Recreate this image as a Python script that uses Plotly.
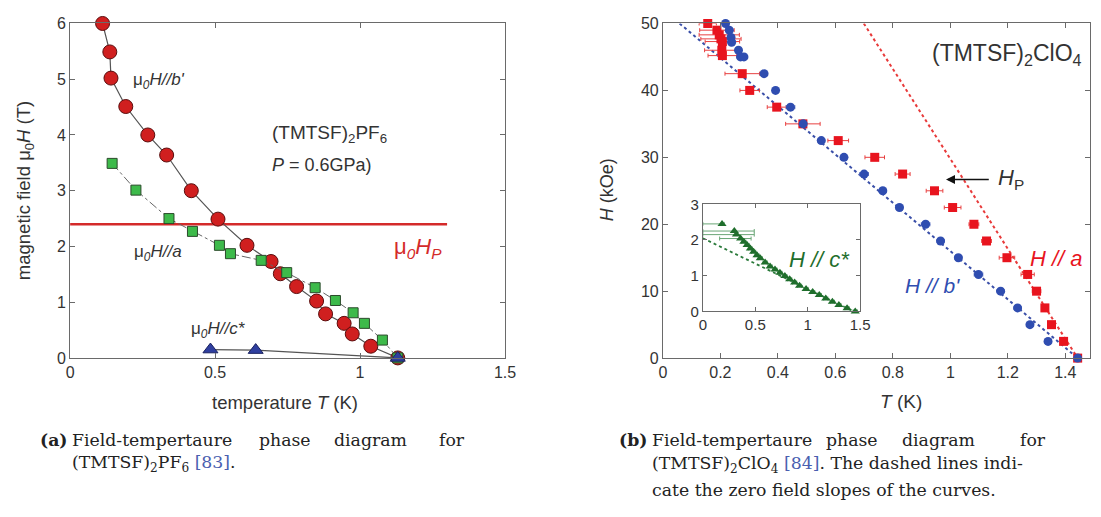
import plotly.graph_objects as go

W, H = 1101, 517

# ---------------- Left panel: (TMTSF)2PF6 ----------------
b_T = [0.112, 0.137, 0.141, 0.192, 0.268, 0.333, 0.418, 0.51, 0.61, 0.693, 0.725, 0.781, 0.85, 0.881, 0.945, 0.973, 1.037, 1.13]
b_H = [6.0, 5.49, 5.02, 4.51, 4.0, 3.64, 3.0, 2.49, 2.02, 1.73, 1.51, 1.28, 1.02, 0.79, 0.62, 0.43, 0.21, 0.0]

a_T = [0.145, 0.227, 0.341, 0.422, 0.515, 0.553, 0.659, 0.747, 0.845, 0.915, 0.976, 1.015, 1.077, 1.13]
a_H = [3.49, 3.01, 2.5, 2.27, 2.02, 1.87, 1.75, 1.53, 1.26, 1.03, 0.81, 0.62, 0.32, 0.0]

c_T = [0.484, 0.64, 1.13]
c_H = [0.15, 0.14, 0.0]

HP_T = [0.0, 1.3]
HP_H = [2.4, 2.4]

# ---------------- Right panel: (TMTSF)2ClO4 ----------------
ra_T = [0.156, 0.188, 0.196, 0.202, 0.207, 0.205, 0.207, 0.276, 0.302, 0.396, 0.487, 0.61, 0.737, 0.834,
        0.945, 1.008, 1.082, 1.126, 1.197, 1.269, 1.30, 1.329, 1.352, 1.394, 1.443]
ra_H = [50.0, 49.0, 48.3, 47.7, 47.3, 46.0, 45.2, 42.5, 40.0, 37.5, 35.0, 32.5, 30.0, 27.5,
        25.0, 22.5, 20.0, 17.5, 15.0, 12.5, 10.0, 7.5, 5.0, 2.5, 0.0]
ra_err = [0.03, 0.06, 0.07, 0.07, 0.06, 0.06, 0.05, 0.06, 0.034, 0.033, 0.06, 0.036, 0.034, 0.026,
          0.029, 0.029, 0.017, 0.017, 0.027, 0.023, 0.015, 0.012, 0.01, 0.01, 0.0]

bb_T = [0.218, 0.231, 0.237, 0.239, 0.263, 0.27, 0.282, 0.352, 0.392, 0.444, 0.488, 0.551, 0.63, 0.70,
        0.765, 0.823, 0.914, 0.966, 1.028, 1.098, 1.175, 1.234, 1.277, 1.34, 1.443]
bb_H = [50.0, 49.0, 47.9, 47.2, 46.0, 45.0, 45.0, 42.5, 40.0, 37.5, 35.0, 32.5, 30.0, 27.5,
        25.0, 22.5, 20.0, 17.5, 15.0, 12.5, 10.0, 7.5, 5.0, 2.5, 0.0]
bb_err = [0.01, 0.012, 0.012, 0.012, 0.01, 0.01, 0.01, 0.012, 0.01, 0.015, 0.012, 0.012, 0.01, 0.015,
          0.012, 0.012, 0.015, 0.012, 0.012, 0.015, 0.012, 0.012, 0.012, 0.012, 0.0]

slope_b_T = [0.058, 1.443]
slope_b_H = [50.0, 0.0]
slope_a_T = [0.699, 1.443]
slope_a_H = [50.0, 0.0]

# inset: H // c*
cs_T = [0.183, 0.30, 0.32, 0.36, 0.391, 0.422, 0.453, 0.484, 0.516, 0.547, 0.594, 0.641, 0.688, 0.735,
        0.782, 0.828, 0.875, 0.922, 0.984, 1.047, 1.11, 1.172, 1.235, 1.297, 1.375, 1.453]
cs_H = [2.45, 2.25, 2.15, 2.04, 1.95, 1.86, 1.76, 1.67, 1.57, 1.49, 1.37, 1.26, 1.17, 1.08,
        0.99, 0.90, 0.81, 0.72, 0.63, 0.54, 0.46, 0.36, 0.27, 0.18, 0.09, 0.0]
cs_errp = [0.02, 0.19, 0.17, 0.1] + [0.02] * 22
cs_errm = [0.183, 0.30, 0.32, 0.2] + [0.02] * 22
slope_c_T = [0.0, 1.44]
slope_c_H = [2.05, 0.0]

FONT = "Liberation Sans"
SERIF = "DejaVu Serif"
TXT = "#333333"
AX = "#6a6a6a"


def px(x):
    return x / W


def py(y):
    return 1 - y / H


fig = go.Figure()

# left panel
fig.add_trace(go.Scatter(x=HP_T, y=HP_H, mode="lines", line=dict(color="#d42a2a", width=2.5),
                         xaxis="x", yaxis="y", showlegend=False))
fig.add_trace(go.Scatter(x=b_T, y=b_H, mode="lines+markers", line=dict(color="#555555", width=1.2),
                         marker=dict(symbol="circle", size=14, color="#d01f1f",
                                     line=dict(color="#5a0d0d", width=1)),
                         cliponaxis=False, xaxis="x", yaxis="y", showlegend=False))
fig.add_trace(go.Scatter(x=a_T, y=a_H, mode="lines+markers", line=dict(color="#666666", width=1, dash="dashdot"),
                         marker=dict(symbol="square", size=10, color="#3dba4a",
                                     line=dict(color="#2b4a2b", width=1)),
                         cliponaxis=False, xaxis="x", yaxis="y", showlegend=False))
fig.add_trace(go.Scatter(x=c_T, y=c_H, mode="lines+markers", line=dict(color="#555555", width=1.2),
                         marker=dict(symbol="triangle-up", size=13, color="#2f3f9f",
                                     line=dict(color="#1a2260", width=1)),
                         cliponaxis=False, xaxis="x", yaxis="y", showlegend=False))

# right panel
fig.add_trace(go.Scatter(x=slope_b_T, y=slope_b_H, mode="lines", line=dict(color="#3a4fa8", width=2, dash="dot"),
                         xaxis="x2", yaxis="y2", showlegend=False))
fig.add_trace(go.Scatter(x=slope_a_T, y=slope_a_H, mode="lines", line=dict(color="#e83a3a", width=2, dash="dot"),
                         xaxis="x2", yaxis="y2", showlegend=False))
fig.add_trace(go.Scatter(x=ra_T, y=ra_H, mode="markers",
                         marker=dict(symbol="square", size=9, color="#e8141e"),
                         error_x=dict(type="data", array=ra_err, color="#e84040", thickness=1, width=2),
                         cliponaxis=False, xaxis="x2", yaxis="y2", showlegend=False))
fig.add_trace(go.Scatter(x=bb_T, y=bb_H, mode="markers",
                         marker=dict(symbol="circle", size=9, color="#2f4db0"),
                         error_x=dict(type="data", array=bb_err, color="#5a70c0", thickness=1, width=2),
                         cliponaxis=False, xaxis="x2", yaxis="y2", showlegend=False))

# inset
fig.add_trace(go.Scatter(x=slope_c_T, y=slope_c_H, mode="lines", line=dict(color="#2a7a3a", width=1.8, dash="dot"),
                         xaxis="x3", yaxis="y3", showlegend=False))
fig.add_trace(go.Scatter(x=cs_T, y=cs_H, mode="markers",
                         marker=dict(symbol="triangle-up", size=8, color="#1f6e2c"),
                         error_x=dict(type="data", symmetric=False, array=cs_errp, arrayminus=cs_errm,
                                      color="#6aa676", thickness=1, width=2),
                         cliponaxis=False, xaxis="x3", yaxis="y3", showlegend=False))

axis_common = dict(showgrid=False, zeroline=False, showline=True, linecolor=AX, linewidth=1,
                   mirror="ticks", ticks="inside", ticklen=5, tickcolor=AX,
                   tickfont=dict(family=FONT, size=16, color=TXT))

fig.update_layout(
    width=W, height=H, margin=dict(l=0, r=0, t=0, b=0),
    paper_bgcolor="white", plot_bgcolor="white",
    xaxis=dict(domain=[px(67), px(508)], range=[0, 1.5], tickvals=[0, 0.5, 1, 1.5],
               ticktext=["0", "0.5", "1", "1.5"], anchor="y", **axis_common),
    yaxis=dict(domain=[py(361.5), py(15)], range=[0, 6], tickvals=[0, 1, 2, 3, 4, 5, 6], anchor="x", **axis_common),
    xaxis2=dict(domain=[px(668), 1.0], range=[0, (W - 668) / 291.4], tickvals=[0, 0.2, 0.4, 0.6, 0.8, 1, 1.2, 1.4],
                ticktext=["0", "0.2", "0.4", "0.6", "0.8", "1", "1.2", "1.4"], anchor="y2", **axis_common),
    yaxis2=dict(domain=[py(361.7), py(15)], range=[0, 50], tickvals=[0, 10, 20, 30, 40, 50], anchor="x2", **axis_common),
    xaxis3=dict(domain=[px(708.5), px(868)], range=[0, 1.5], tickvals=[0, 0.5, 1, 1.5],
                ticktext=["0", "0.5", "1", "1.5"], anchor="y3",
                **{**axis_common, "tickfont": dict(family=FONT, size=15, color=TXT), "ticklen": 4}),
    yaxis3=dict(domain=[py(313.3), py(202.3)], range=[0, 3], tickvals=[0, 1, 2, 3], anchor="x3",
                **{**axis_common, "tickfont": dict(family=FONT, size=15, color=TXT), "ticklen": 4}),
)

ann = []


def A(text, x, y, xref="paper", yref="paper", size=15, color=TXT, xanchor="left", yanchor="middle",
      family=FONT, angle=0):
    ann.append(dict(text=text, x=x, y=y, xref=xref, yref=yref, showarrow=False, xanchor=xanchor,
                    yanchor=yanchor, textangle=angle, font=dict(family=family, size=size, color=color)))


# left panel text
A("μ<sub><i>0</i></sub><i>H//b'</i>", 0.21, 4.96, "x", "y", size=17)
A("μ<sub><i>0</i></sub><i>H//a</i>", 0.215, 1.88, "x", "y", size=17)
A("μ<sub><i>0</i></sub><i>H//c*</i>", 0.41, 0.5, "x", "y", size=17)
A("μ<sub><i>0</i></sub><i>H</i><sub><i>P</i></sub>", 1.11, 1.98, "x", "y", size=22, color="#d42a2a")
A("(TMTSF)<sub>2</sub>PF<sub>6</sub>", 0.69, 4.01, "x", "y", size=19)
A("<i>P</i> = 0.6GPa)", 0.69, 3.46, "x", "y", size=18)
A("magnetic field μ<sub>0</sub><i>H</i> (T)", px(22), py(188), size=18.5, xanchor="center", angle=-90)
A("temperature <i>T</i> (K)", px(285), py(408), size=18.5, xanchor="center")

# right panel text
A("(TMTSF)<sub>2</sub>ClO<sub>4</sub>", 0.93, 45.4, "x2", "y2", size=23)
A("<i>H</i><sub>P</sub>", 1.16, 26.7, "x2", "y2", size=22)
A("<i>H // a</i>", 1.37, 14.9, "x2", "y2", size=22, color="#e8141e", xanchor="center")
A("<i>H // b'</i>", 0.937, 10.8, "x2", "y2", size=21, color="#2f4db0", xanchor="center")
A("<i>H // c*</i>", 1.115, 1.45, "x3", "y3", size=22, color="#1f6e2c", xanchor="center")
A("<i>H</i> (kOe)", px(612), py(187), size=18, xanchor="center", angle=-90)
A("<i>T</i> (K)", px(909), py(407), size=19, xanchor="center")

ann.append(dict(x=0.985, y=26.7, ax=1.139, ay=26.7, xref="x2", yref="y2", axref="x2", ayref="y2",
                text="", showarrow=True, arrowhead=2, arrowsize=1.2, arrowwidth=1.5, arrowcolor="#111111"))

# captions
CAP = "#222222"
LINK = "#4a5fb0"
CS = 17.3
A("<b>(a)</b>", px(34), py(447), size=CS, family=SERIF, color=CAP)
A("Field-tempertaure", px(67), py(447), size=CS, family=SERIF, color=CAP)
A("phase", px(256), py(447), size=CS, family=SERIF, color=CAP)
A("diagram", px(333), py(447), size=CS, family=SERIF, color=CAP)
A("for", px(469), py(447), size=CS, family=SERIF, color=CAP, xanchor="right")
A("(TMTSF)<sub>2</sub>PF<sub>6</sub> <span style='color:%s'>[83]</span>." % LINK, px(67), py(471),
  size=CS, family=SERIF, color=CAP)

A("<b>(b)</b>", px(621), py(447), size=CS, family=SERIF, color=CAP)
A("Field-tempertaure", px(655), py(447), size=CS, family=SERIF, color=CAP)
A("phase", px(831), py(447), size=CS, family=SERIF, color=CAP)
A("diagram", px(908), py(447), size=CS, family=SERIF, color=CAP)
A("for", px(1058), py(447), size=CS, family=SERIF, color=CAP, xanchor="right")
A("(TMTSF)<sub>2</sub>ClO<sub>4</sub> <span style='color:%s'>[84]</span>. The dashed lines indi-" % LINK,
  px(655), py(472), size=CS, family=SERIF, color=CAP)
A("cate the zero field slopes of the curves.", px(655), py(498), size=CS, family=SERIF, color=CAP)

fig.update_layout(annotations=ann)
fig.write_html("out.html")
